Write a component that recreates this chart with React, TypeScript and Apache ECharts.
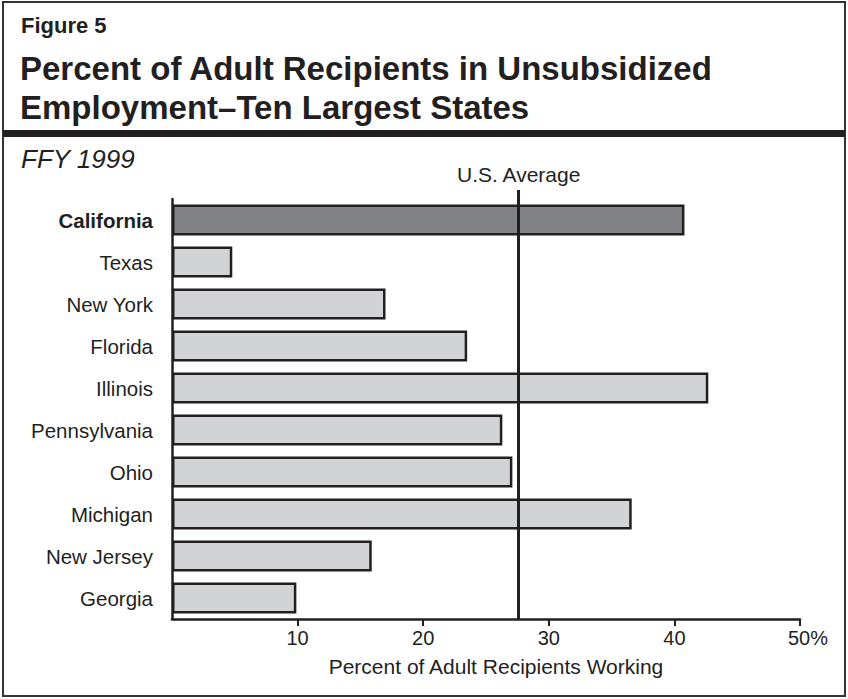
import React, { useEffect, useRef } from "react";
import * as echarts from "echarts";

const states = [
  "California",
  "Texas",
  "New York",
  "Florida",
  "Illinois",
  "Pennsylvania",
  "Ohio",
  "Michigan",
  "New Jersey",
  "Georgia",
];
const percentWorking = [40.8, 4.8, 17.0, 23.5, 42.7, 26.3, 27.1, 36.6, 15.9, 9.9];
const usAverage = 27.6;
const tickValues = [10, 20, 30, 40, 50];

const FONT = "'Liberation Sans', Arial, Helvetica, sans-serif";
const INK = "#231f20";

export default function App() {
  const ref = useRef<HTMLDivElement>(null);

  useEffect(() => {
    document.body.style.margin = "0";
    if (!ref.current) return;
    const chart = echarts.init(ref.current, null, { renderer: "svg" });

    const option: any = {
      animation: false,
      backgroundColor: "#ffffff",
      textStyle: { fontFamily: FONT, color: INK },
      grid: [
        { left: 172, right: 48, top: 199, bottom: 80 },
        { left: 172, right: 48, top: 190, bottom: 80 },
      ],
      xAxis: [
        {
          type: "value",
          gridIndex: 0,
          min: 0,
          max: 50,
          interval: 10,
          splitLine: { show: false },
          axisLine: { show: true, lineStyle: { color: INK, width: 2.5 } },
          axisTick: {
            show: true,
            length: 7,
            customValues: tickValues,
            lineStyle: { color: INK, width: 2 },
          },
          axisLabel: {
            customValues: tickValues,
            color: INK,
            fontFamily: FONT,
            fontSize: 20,
            margin: 9,
            formatter: (v: number) => (v === 50 ? "{h|50%}" : String(v)),
            rich: {
              h: {
                fontFamily: FONT,
                fontSize: 20,
                color: INK,
                padding: [0, 0, 0, 16],
              },
            },
          },
          name: "Percent of Adult Recipients Working",
          nameLocation: "middle",
          nameGap: 37,
          nameTextStyle: {
            color: INK,
            fontFamily: FONT,
            fontSize: 21,
            padding: [0, 0, 0, 20],
          },
        },
        {
          type: "value",
          gridIndex: 1,
          min: 0,
          max: 50,
          show: false,
        },
      ],
      yAxis: [
        {
          type: "category",
          gridIndex: 0,
          inverse: true,
          data: states.map((s, i) =>
            i === 0 ? { value: s, textStyle: { fontWeight: "bold" } } : s
          ),
          axisLine: { show: true, lineStyle: { color: INK, width: 2.5 } },
          axisTick: { show: false },
          axisLabel: {
            color: INK,
            fontFamily: FONT,
            fontSize: 20.5,
            margin: 19,
          },
        },
        {
          type: "value",
          gridIndex: 1,
          min: 0,
          max: 1,
          show: false,
        },
      ],
      series: [
        {
          type: "bar",
          xAxisIndex: 0,
          yAxisIndex: 0,
          barWidth: 31,
          data: percentWorking.map((v, i) => ({
            value: v,
            itemStyle: { color: i === 0 ? "#808285" : "#d1d3d4" },
          })),
          itemStyle: { borderColor: INK, borderWidth: 2.5 },
          z: 2,
        },
        {
          type: "scatter",
          xAxisIndex: 1,
          yAxisIndex: 1,
          symbolSize: 0,
          data: [[usAverage, 0.5]],
          silent: true,
          z: 5,
          markLine: {
            silent: true,
            symbol: "none",
            lineStyle: { color: INK, width: 3, type: "solid" },
            label: {
              show: true,
              position: "end",
              distance: 5,
              formatter: "U.S. Average",
              color: INK,
              fontFamily: FONT,
              fontSize: 21,
            },
            data: [{ xAxis: usAverage }],
          },
        },
      ],
      graphic: [
        {
          type: "rect",
          shape: { x: 3, y: 2, width: 842, height: 694 },
          style: { fill: "none", stroke: "#333333", lineWidth: 2 },
          silent: true,
        },
        {
          type: "rect",
          shape: { x: 3, y: 130, width: 842, height: 7 },
          style: { fill: INK },
          silent: true,
        },
        {
          type: "text",
          x: 21,
          y: 25,
          style: {
            text: "Figure 5",
            fill: INK,
            font: `bold 22px ${FONT}`,
            verticalAlign: "middle",
          },
        },
        {
          type: "text",
          x: 20,
          y: 68,
          style: {
            text: "Percent of Adult Recipients in Unsubsidized",
            fill: INK,
            font: `bold 33px ${FONT}`,
            verticalAlign: "middle",
          },
        },
        {
          type: "text",
          x: 20,
          y: 107,
          style: {
            text: "Employment\u2013Ten Largest States",
            fill: INK,
            font: `bold 33px ${FONT}`,
            verticalAlign: "middle",
          },
        },
        {
          type: "text",
          x: 21,
          y: 159,
          style: {
            text: "FFY 1999",
            fill: INK,
            font: `italic 26px ${FONT}`,
            verticalAlign: "middle",
          },
        },
      ],
    };

    chart.setOption(option);
    return () => chart.dispose();
  }, []);

  return <div ref={ref} style={{ width: 848, height: 699 }} />;
}
